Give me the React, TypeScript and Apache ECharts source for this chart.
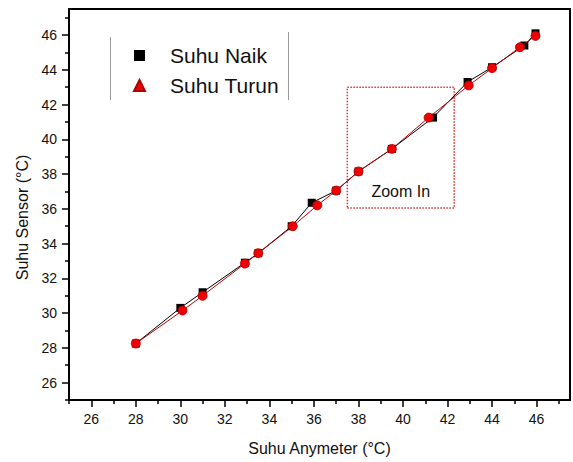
import React, { useEffect, useRef } from "react";
import * as echarts from "echarts";

// Sensor reading against reference meter, rising and falling temperature runs
const naikX = [28, 30, 31, 32.9, 33.5, 35, 35.9, 37, 38, 39.5, 41.35, 42.9, 44, 45.45, 45.95];
const naikY = [28.25, 30.3, 31.2, 32.9, 33.45, 35.0, 36.35, 37.05, 38.15, 39.45, 41.25, 43.3, 44.15, 45.4, 46.1];
const turunX = [28, 30.1, 31, 32.9, 33.5, 35.05, 36.15, 37, 38, 39.5, 41.15, 42.95, 44, 45.25, 45.95];
const turunY = [28.25, 30.15, 31.0, 32.85, 33.45, 35.0, 36.2, 37.05, 38.15, 39.45, 41.25, 43.1, 44.1, 45.3, 45.95];

// Axis ticks: labelled even values, short ticks on odd values
const majorTicks = [26, 28, 30, 32, 34, 36, 38, 40, 42, 44, 46];
const minorTicks = [25, 27, 29, 31, 33, 35, 37, 39, 41, 43, 45, 47];

// Highlighted region [xMin, yMin, xMax, yMax]
const zoomBox = [37.5, 36.05, 42.3, 43.0];

const FONT = "'Liberation Sans', Arial, sans-serif";

export default function App() {
  const ref = useRef<HTMLDivElement>(null);

  useEffect(() => {
    document.body.style.margin = "0";
    const chart = echarts.init(ref.current!, null, { renderer: "svg" });

    const mainAxis = (name: string, isY: boolean) => ({
      type: "value",
      min: 25,
      max: 47.5,
      position: isY ? "left" : "bottom",
      name,
      nameLocation: "middle",
      nameGap: isY ? 36 : 40,
      nameTextStyle: {
        fontSize: 16,
        color: "#111",
        fontFamily: FONT,
        padding: isY ? [0, 26, 0, 0] : 0,
      },
      axisLine: { show: true, lineStyle: { color: "#000", width: 2 } },
      axisTick: {
        show: true,
        length: 7,
        customValues: majorTicks,
        lineStyle: { color: "#000", width: 1.5 },
      },
      axisLabel: {
        customValues: majorTicks,
        margin: 12,
        fontSize: 14,
        color: "#111",
        fontFamily: FONT,
      },
      splitLine: { show: false },
    });

    const minorAxis = (isY: boolean) => ({
      type: "value",
      min: 25,
      max: 47.5,
      position: isY ? "left" : "bottom",
      axisLine: { show: false },
      axisTick: {
        show: true,
        length: 4,
        customValues: minorTicks,
        lineStyle: { color: "#000", width: 1.5 },
      },
      axisLabel: { show: false },
      splitLine: { show: false },
    });

    chart.setOption({
      animation: false,
      backgroundColor: "#fff",
      grid: {
        left: 69,
        top: 9,
        right: 3,
        bottom: 62,
        show: true,
        borderColor: "#000",
        borderWidth: 2,
        backgroundColor: "transparent",
      },
      xAxis: [mainAxis("Suhu Anymeter (°C)", false), minorAxis(false)],
      yAxis: [mainAxis("Suhu Sensor (°C)", true), minorAxis(true)],
      legend: {
        orient: "vertical",
        left: 133,
        top: 45,
        padding: 0,
        itemGap: 9,
        itemWidth: 11,
        itemHeight: 11,
        selectedMode: false,
        textStyle: {
          fontSize: 21,
          color: "#111",
          fontFamily: FONT,
          padding: [0, 0, 0, 20],
        },
        data: [
          { name: "Suhu Naik", icon: "rect" },
          { name: "Suhu Turun", icon: "triangle" },
        ],
      },
      graphic: [
        {
          type: "line",
          shape: { x1: 110.5, y1: 37, x2: 110.5, y2: 100 },
          style: { stroke: "#9a9a9a", lineWidth: 1 },
        },
        {
          type: "line",
          shape: { x1: 288.5, y1: 32, x2: 288.5, y2: 100 },
          style: { stroke: "#9a9a9a", lineWidth: 1 },
        },
      ],
      series: [
        {
          name: "Suhu Naik",
          type: "line",
          xAxisIndex: 0,
          yAxisIndex: 0,
          data: naikX.map((x, i) => [x, naikY[i]]),
          symbol: "rect",
          symbolSize: 8,
          itemStyle: { color: "#000" },
          lineStyle: { color: "#000", width: 1 },
          z: 2,
        },
        {
          name: "Suhu Turun",
          type: "line",
          xAxisIndex: 0,
          yAxisIndex: 0,
          data: turunX.map((x, i) => [x, turunY[i]]),
          symbol: "circle",
          symbolSize: 9,
          itemStyle: { color: "#f00000", borderColor: "#b00000", borderWidth: 0.8 },
          lineStyle: { color: "#c00000", width: 1 },
          z: 3,
          markArea: {
            silent: true,
            itemStyle: {
              color: "rgba(0,0,0,0)",
              borderColor: "#d83030",
              borderWidth: 1.5,
              borderType: [1.5, 1.5],
            },
            label: {
              show: true,
              position: "insideBottom",
              distance: 9,
              formatter: "Zoom In",
              fontSize: 16,
              color: "#111",
              fontFamily: FONT,
            },
            data: [
              [
                { xAxis: zoomBox[0], yAxis: zoomBox[1] },
                { xAxis: zoomBox[2], yAxis: zoomBox[3] },
              ],
            ],
          },
        },
      ],
    });

    return () => chart.dispose();
  }, []);

  return <div ref={ref} style={{ width: 573, height: 462 }} />;
}
